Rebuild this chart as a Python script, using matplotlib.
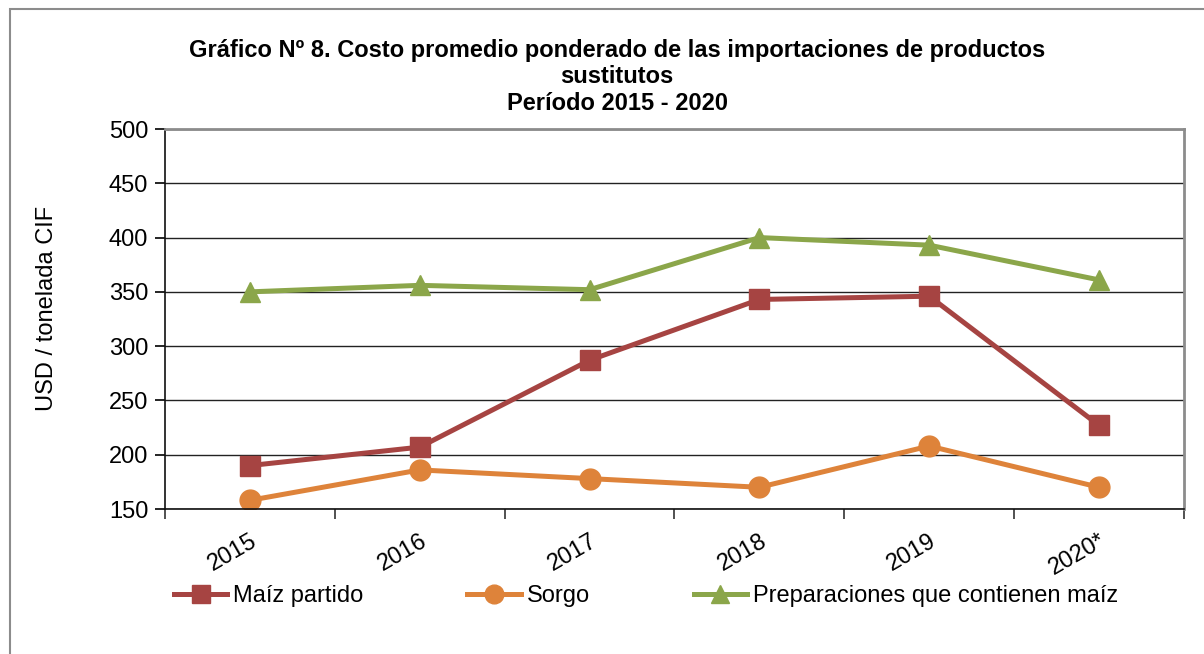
import numpy as np
import matplotlib.pyplot as plt
from matplotlib.patches import Rectangle

plt.rcParams['font.family'] = ['Liberation Sans', 'DejaVu Sans']

# Datos
anios = ['2015', '2016', '2017', '2018', '2019', '2020*']
maiz_partido = [190, 207, 287, 343, 346, 227]
sorgo = [158, 186, 178, 170, 208, 170]
preparaciones = [350, 356, 352, 400, 393, 361]

fig = plt.figure(figsize=(12.04, 6.54), dpi=100)

# Marco exterior del gráfico
fig.patches.append(Rectangle((10 / 1204, -0.05), 1.2, 1 - 9 / 654 + 0.05,
                             transform=fig.transFigure, fill=False,
                             edgecolor='#8c8c8c', linewidth=1.5))

ax = fig.add_axes([165 / 1204, 1 - 509 / 654, (1184 - 165) / 1204, 380 / 654])

x = np.arange(len(anios))
ax.plot(x, maiz_partido, color='#A64442', lw=3.6, marker='s', ms=14,
        label='Maíz partido')
ax.plot(x, sorgo, color='#DE833A', lw=3.6, marker='o', ms=15,
        label='Sorgo')
ax.plot(x, preparaciones, color='#8BA64A', lw=3.6, marker='^', ms=15,
        label='Preparaciones que contienen maíz')

ax.set_xlim(-0.5, 5.5)
ax.set_ylim(150, 500)
ax.set_yticks(np.arange(150, 501, 50))
ax.yaxis.grid(True, color='#222222', lw=1.0)
ax.set_axisbelow(True)

ax.set_xticks(x)
ax.set_xticklabels(anios, rotation=30, ha='right', rotation_mode='anchor')
ax.set_xticks(np.arange(-0.5, 5.6, 1), minor=True)
ax.tick_params(axis='x', which='major', length=0, labelsize=17, pad=15)
ax.tick_params(axis='x', which='minor', length=7, width=1.2, color='#333333')
ax.tick_params(axis='y', length=7, width=1.2, labelsize=17, pad=5)

for s in ['left', 'bottom']:
    ax.spines[s].set_color('#111111')
    ax.spines[s].set_linewidth(1.2)
for s in ['top', 'right']:
    ax.spines[s].set_color('#8c8c8c')
    ax.spines[s].set_linewidth(2)

fig.text(47 / 1204, 1 - 308 / 654, 'USD / tonelada CIF', rotation=90,
         ha='center', va='center', fontsize=17)

titulo = ['Gráfico Nº 8. Costo promedio ponderado de las importaciones de productos',
          'sustitutos', 'Período 2015 - 2020']
for i, t in enumerate(titulo):
    fig.text(617 / 1204, 1 - (50 + 26.5 * i) / 654, t, ha='center',
             va='center', fontsize=17, fontweight='bold')

fig.legend(loc='center', bbox_to_anchor=(646 / 1204, 1 - 596 / 654), ncol=3,
           frameon=False, fontsize=17, handlelength=2.25, handletextpad=0.25,
           columnspacing=4.4, markerscale=0.9)

fig.savefig('out.png', dpi=100)
